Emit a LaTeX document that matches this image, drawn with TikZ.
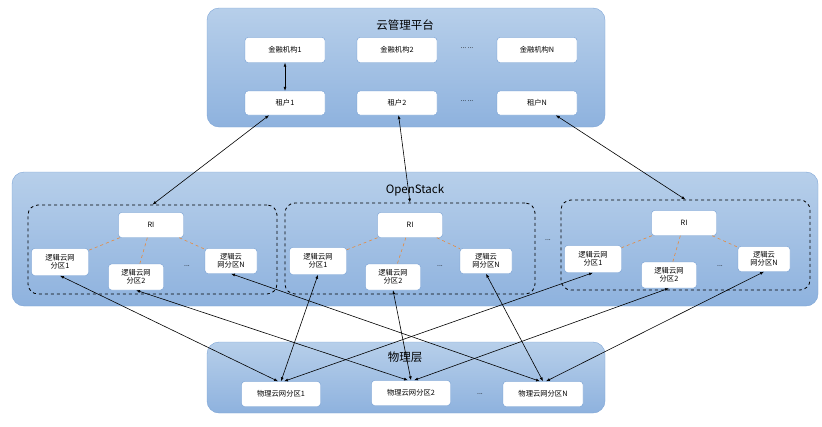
\documentclass[tikz,border=0pt]{standalone}
\usepackage{fontspec}
\setmainfont{Noto Sans CJK SC}
\usetikzlibrary{arrows.meta}
\definecolor{paneltop}{HTML}{B7CFEA}
\definecolor{panelbot}{HTML}{8EB2DE}
\definecolor{panelline}{HTML}{7DA4D6}
\definecolor{boxline}{HTML}{6F9AD0}
\definecolor{linkorange}{HTML}{E8893A}
\tikzset{
  panel/.style={draw=panelline,rounded corners=12pt,top color=paneltop,bottom color=panelbot},
  group/.style={draw,dashed,thick,rounded corners=10pt},
  box/.style={draw=boxline,fill=white,rounded corners=3pt,font=\fontsize{7.3}{8.3}\selectfont,align=center,inner sep=1pt},
  title/.style={font=\fontsize{11.5}{12}\selectfont},
  dots/.style={font=\fontsize{7}{8}\selectfont},
  link/.style={draw,{Latex[length=4pt,width=3pt]}-{Latex[length=4pt,width=3pt]},semithick},
  ri link/.style={draw=linkorange,dashed,semithick}
}
\begin{document}
\begin{tikzpicture}[x=1pt,y=-1pt]
    \useasboundingbox (0,0) rectangle (822,426);
    % Panels
    \path[panel] (207,8) rectangle (605,127);
    \path[panel] (12,172) rectangle (818,306);
    \path[panel] (207,342) rectangle (605,413);
    \node[title] (cloud) at (405,25) {云管理平台};
    \node[title] (os) at (415,190) {OpenStack};
    \node[title] (phy) at (405,357) {物理层};
    % Groups
    \node[group,minimum width=249,minimum height=89] (g1) at (152.5,249.5) {};
    \node[group,minimum width=250,minimum height=91] (g2) at (410,248.5) {};
    \node[group,minimum width=249,minimum height=90] (g3) at (685.5,245) {};
    \node[dots] at (548,240) {...};
    % Top boxes
    \foreach \x/\i/\t in {285/1/1, 397/2/2, 537/n/N} {
        \node[box,minimum width=80,minimum height=25] (fin\i) at (\x,50) {金融机构\t};
        \node[box,minimum width=80,minimum height=24] (ten\i) at (\x,103) {租户\t};
    }
    \node[dots] at (467,48) {...\,...};
    \node[dots] at (467,101) {...\,...};
    % RI and logical partitions
    \foreach \g/\x/\y in {1/151/225, 2/410/225, 3/684/223}
        \node[box,minimum width=65,minimum height=25] (ri\g) at (\x,\y) {RI};
    \foreach \g/\ax/\ay/\bx/\by/\cx/\cy/\dx in {1/60/262/136/277/231/261/187, 2/318/261/393/277/486/261/440, 3/593/259/669/275/764/259/720} {
        \node[box,minimum width=57,minimum height=27] (lp\g a) at (\ax,\ay) {逻辑云网\\分区1};
        \node[box,minimum width=55,minimum height=26] (lp\g b) at (\bx,\by) {逻辑云网\\分区2};
        \node[box,minimum width=52,minimum height=25] (lp\g n) at (\cx,\cy) {逻辑云\\网分区N};
        \node[dots] at (\dx,266) {...};
        \path[ri link] (ri\g) -- (lp\g a);
        \path[ri link] (ri\g) -- (lp\g b);
        \path[ri link] (ri\g) -- (lp\g n);
    }
    % Physical partitions
    \node[box,minimum width=79,minimum height=25] (pp1) at (281,394) {物理云网分区1};
    \node[box,minimum width=79,minimum height=25] (pp2) at (411,393) {物理云网分区2};
    \node[box,minimum width=80,minimum height=25] (ppn) at (543,394) {物理云网分区N};
    \node[dots] at (480,394) {...};
    % Connections
    \path[link] (fin1) -- (ten1);
    \path[link] (ten1) -- (g1.north);
    \path[link] (ten2) -- (g2.north);
    \path[link] (tenn) -- (g3.north);
    \foreach \g/\dx in {1/-3, 2/0, 3/3} {
        \path[link] (lp\g a.south) -- ([xshift=\dx]pp1.north);
        \path[link] (lp\g b.south) -- ([xshift=\dx]pp2.north);
        \path[link] (lp\g n.south) -- ([xshift=\dx]ppn.north);
    }
\end{tikzpicture}
\end{document}
